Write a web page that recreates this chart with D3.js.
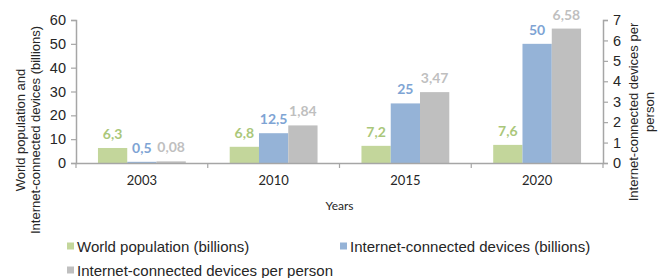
<!DOCTYPE html>
<html>
<head>
<meta charset="utf-8">
<script src="https://cdn.jsdelivr.net/npm/d3@7"></script>
<style>
  body { margin: 0; background: #fff; }
  svg { display: block; }
</style>
</head>
<body>
<div id="chart"></div>
<script>
// data
var years = ["2003", "2010", "2015", "2020"];
var population = [6.3, 6.8, 7.2, 7.6];
var devices = [0.5, 12.5, 25, 50];
var perPerson = [0.08, 1.84, 3.47, 6.58];
var popLabels = ["6,3", "6,8", "7,2", "7,6"];
var devLabels = ["0,5", "12,5", "25", "50"];
var perLabels = ["0,08", "1,84", "3,47", "6,58"];
var leftTicks = [0, 10, 20, 30, 40, 50, 60];
var rightTicks = [0, 1, 2, 3, 4, 5, 6, 7];
var seriesNames = ["World population (billions)", "Internet-connected devices (billions)", "Internet-connected devices per person"];

var width = 666, height = 278;
var margin = { top: 20, right: 63, bottom: 115, left: 76 };
var chartWidth = width - margin.left - margin.right;
var chartHeight = height - margin.top - margin.bottom;

var barColors = ["#c3d69b", "#95b3d7", "#bfbfbf"];
var labelColors = ["#aac77a", "#7ea4d4", "#bfbfbf"];
var axisColor = "#a6a6a6";
var textColor = "#262626";

var svg = d3.select("#chart").append("svg")
    .attr("width", width)
    .attr("height", height);

var chartGroup = svg.append("g")
    .attr("transform", `translate(${margin.left}, ${margin.top})`);

// scales
var x0 = d3.scaleBand().domain(years).range([0, chartWidth]).padding(0);
var x1 = d3.scaleBand().domain([0, 1, 2]).range([0, x0.bandwidth()])
    .paddingInner(0).paddingOuter(0.75);
var yLeft = d3.scaleLinear().domain([0, 60]).range([chartHeight, 0]);
var yRight = d3.scaleLinear().domain([0, 7]).range([chartHeight, 0]);

// bars
var rows = years.map(function(y, i) {
  return [
    { s: 0, year: y, v: population[i], label: popLabels[i], y: yLeft },
    { s: 1, year: y, v: devices[i], label: devLabels[i], y: yLeft },
    { s: 2, year: y, v: perPerson[i], label: perLabels[i], y: yRight }
  ];
});

var groups = chartGroup.selectAll(".grp")
    .data(rows)
    .enter()
    .append("g")
    .attr("class", "grp")
    .attr("transform", (d, i) => `translate(${x0(years[i])}, 0)`);

groups.selectAll("rect")
    .data(d => d)
    .enter()
    .append("rect")
    .attr("x", d => x1(d.s))
    .attr("width", x1.bandwidth())
    .attr("y", d => d.y(d.v))
    .attr("height", d => chartHeight - d.y(d.v))
    .attr("fill", d => barColors[d.s]);

groups.selectAll("text")
    .data(d => d)
    .enter()
    .append("text")
    .attr("x", d => x1(d.s) + x1.bandwidth() / 2)
    .attr("y", d => d.y(d.v) - 9)
    .attr("text-anchor", "middle")
    .style("font-family", "Lato, 'Open Sans', sans-serif")
    .style("font-weight", "bold")
    .style("font-size", "14px")
    .attr("fill", d => labelColors[d.s])
    .text(d => d.label);

// axes
var leftAxis = d3.axisLeft(yLeft).tickValues(leftTicks).tickSize(5).tickPadding(5);
var rightAxis = d3.axisRight(yRight).tickValues(rightTicks).tickFormat(d3.format("d"))
    .tickSize(5).tickPadding(5);
var bottomAxis = d3.axisBottom(x0).tickSize(0).tickPadding(13);

var gl = chartGroup.append("g").call(leftAxis);
var gr = chartGroup.append("g").attr("transform", `translate(${chartWidth}, 0)`).call(rightAxis);
var gb = chartGroup.append("g").attr("transform", `translate(0, ${chartHeight})`).call(bottomAxis);

[gl, gr].forEach(function(g) {
  g.select(".domain").attr("stroke", axisColor).attr("stroke-width", 1.5);
  g.selectAll(".tick line").attr("stroke", axisColor).attr("stroke-width", 1.2);
  g.selectAll(".tick text")
      .style("font-family", "'Liberation Sans', Arial, sans-serif")
      .style("font-size", "14.5px")
      .attr("fill", textColor);
});
gb.select(".domain").attr("stroke", axisColor).attr("stroke-width", 1.5);
gb.selectAll(".tick text")
    .style("font-family", "Lato, 'Open Sans', sans-serif")
    .style("font-size", "13px")
    .attr("fill", textColor);

// category separator ticks on the x axis
gb.selectAll(".sep")
    .data(years.concat(["end"]))
    .enter()
    .append("line")
    .attr("class", "sep")
    .attr("x1", (d, i) => i * x0.step())
    .attr("x2", (d, i) => i * x0.step())
    .attr("y1", 0)
    .attr("y2", 5)
    .attr("stroke", axisColor)
    .attr("stroke-width", 1.2);

// axis titles
svg.append("text")
    .attr("x", margin.left + chartWidth / 2)
    .attr("y", 210)
    .attr("text-anchor", "middle")
    .style("font-family", "Lato, 'Open Sans', sans-serif")
    .style("font-size", "12px")
    .attr("fill", textColor)
    .text("Years");

var leftTitle = svg.append("text")
    .attr("transform", "translate(0, 130) rotate(-90)")
    .attr("text-anchor", "middle")
    .style("font-family", "'Liberation Sans', Arial, sans-serif")
    .style("font-size", "13px")
    .attr("fill", textColor);
leftTitle.append("tspan").attr("x", 0).attr("y", 25).text("World population and");
leftTitle.append("tspan").attr("x", 0).attr("y", 40).text("Internet-connected devices (billions)");

var rightTitle = svg.append("text")
    .attr("transform", "translate(0, 112) rotate(-90)")
    .attr("text-anchor", "middle")
    .style("font-family", "'Liberation Sans', Arial, sans-serif")
    .style("font-size", "13px")
    .attr("fill", textColor);
rightTitle.append("tspan").attr("x", 0).attr("y", 638).text("Internet-connected devices per");
rightTitle.append("tspan").attr("x", 0).attr("y", 654).text("person");

// legend
var legendPos = [[67, 246], [340, 246], [67, 270]];
var legend = svg.selectAll(".legend")
    .data(seriesNames)
    .enter()
    .append("g")
    .attr("class", "legend")
    .attr("transform", (d, i) => `translate(${legendPos[i][0]}, ${legendPos[i][1]})`);

legend.append("rect")
    .attr("x", 0)
    .attr("y", -3.5)
    .attr("width", 7)
    .attr("height", 7)
    .attr("fill", (d, i) => barColors[i]);

legend.append("text")
    .attr("x", 10)
    .attr("y", 5.5)
    .style("font-family", "'Liberation Sans', Arial, sans-serif")
    .style("font-size", "15px")
    .attr("fill", textColor)
    .text(d => d);
</script>
</body>
</html>
